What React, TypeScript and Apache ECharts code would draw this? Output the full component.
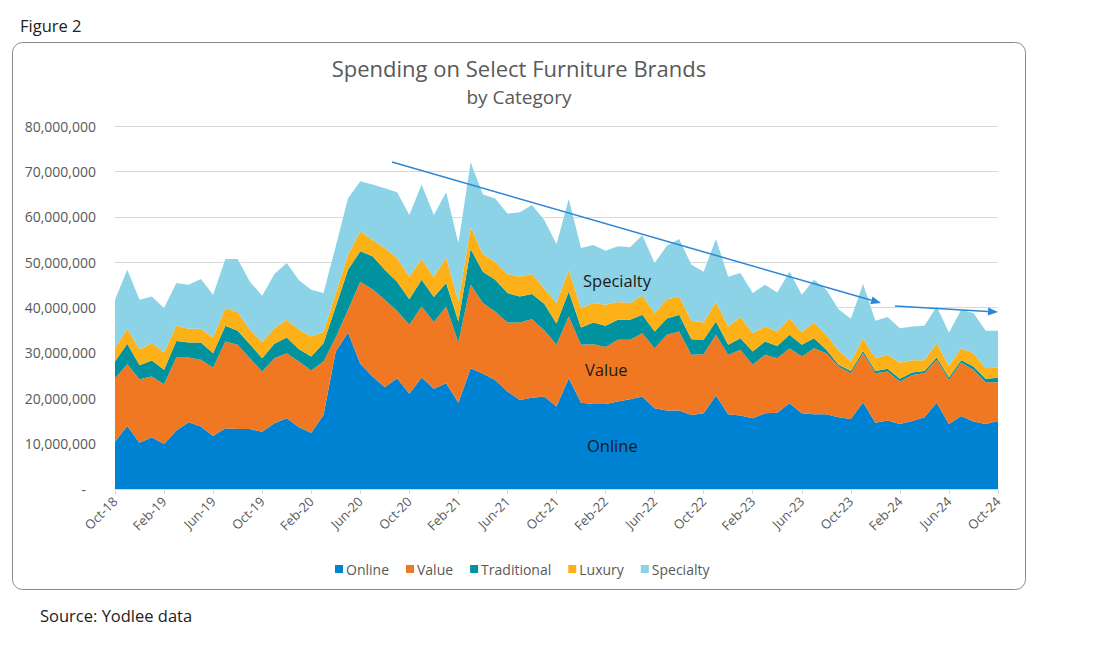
import React, { useEffect, useRef } from "react";
import * as echarts from "echarts";

const UNIT = 1e6;

const categories = [
  "Oct-18","Nov-18","Dec-18","Jan-19","Feb-19","Mar-19","Apr-19","May-19","Jun-19","Jul-19","Aug-19","Sep-19",
  "Oct-19","Nov-19","Dec-19","Jan-20","Feb-20","Mar-20","Apr-20","May-20","Jun-20","Jul-20","Aug-20","Sep-20",
  "Oct-20","Nov-20","Dec-20","Jan-21","Feb-21","Mar-21","Apr-21","May-21","Jun-21","Jul-21","Aug-21","Sep-21",
  "Oct-21","Nov-21","Dec-21","Jan-22","Feb-22","Mar-22","Apr-22","May-22","Jun-22","Jul-22","Aug-22","Sep-22",
  "Oct-22","Nov-22","Dec-22","Jan-23","Feb-23","Mar-23","Apr-23","May-23","Jun-23","Jul-23","Aug-23","Sep-23",
  "Oct-23","Nov-23","Dec-23","Jan-24","Feb-24","Mar-24","Apr-24","May-24","Jun-24","Jul-24","Aug-24","Sep-24",
  "Oct-24",
];

// values in millions
const online = [
  10.4, 13.9, 10.2, 11.4, 9.9, 12.9, 14.7, 13.75, 11.7, 13.4, 13.2, 13.2,
  12.6, 14.5, 15.6, 13.6, 12.4, 16.3, 30.3, 34.5, 27.6, 24.8, 22.4, 24.4,
  21.0, 24.6, 22.1, 23.3, 19.0, 26.6, 25.4, 24.0, 21.5, 19.6, 20.1, 20.4,
  18.2, 24.4, 19.0, 18.75, 18.75, 19.3, 19.8, 20.4, 17.8, 17.3, 17.3, 16.3,
  16.7, 20.6, 16.5, 16.2, 15.6, 16.7, 16.8, 18.9, 16.7, 16.5, 16.5, 15.8,
  15.4, 19.1, 14.6, 15.1, 14.3, 15.0, 15.8, 19.0, 14.3, 16.1, 14.9, 14.3,
  15.0,
];
const value = [
  14.0, 13.6, 14.0, 13.4, 13.2, 16.1, 14.3, 14.75, 15.1, 19.1, 18.6, 15.6,
  13.3, 14.3, 14.3, 14.5, 13.7, 11.8, 3.1, 5.0, 18.1, 19.2, 19.3, 14.9,
  15.2, 15.6, 14.7, 16.9, 13.3, 18.4, 15.6, 15.1, 15.2, 17.1, 17.3, 14.6,
  13.6, 13.6, 12.8, 13.15, 12.55, 13.6, 13.1, 13.9, 13.2, 16.7, 17.4, 13.3,
  13.0, 13.4, 13.1, 14.5, 11.8, 12.9, 12.0, 12.1, 12.5, 14.5, 13.4, 11.2,
  10.1, 10.8, 10.9, 10.8, 9.4, 10.1, 9.7, 9.5, 9.7, 11.8, 11.4, 9.2,
  8.5,
];
const traditional = [
  3.7, 4.5, 3.1, 3.5, 3.2, 3.6, 3.3, 3.8, 3.1, 3.5, 3.1, 3.1,
  2.9, 3.2, 3.5, 2.7, 3.1, 4.0, 6.8, 8.8, 6.7, 7.3, 6.6, 6.4,
  5.6, 5.9, 5.5, 5.2, 4.6, 7.9, 6.9, 7.0, 6.5, 5.7, 5.6, 5.8,
  4.7, 5.5, 3.8, 4.8, 4.7, 4.4, 4.4, 4.1, 3.7, 3.6, 3.7, 3.4,
  3.2, 2.9, 2.2, 2.5, 2.9, 2.9, 2.7, 3.0, 2.6, 2.2, 0.8, 0.4,
  0.5, 0.5, 0.5, 0.6, 0.6, 0.6, 0.5, 0.5, 0.6, 0.5, 0.7, 0.8,
  1.0,
];
const luxury = [
  2.9, 3.3, 3.5, 3.8, 3.8, 3.4, 3.0, 3.0, 3.5, 3.9, 4.1, 3.2,
  3.6, 3.4, 3.9, 4.3, 4.4, 2.5, 3.0, 3.3, 4.4, 3.6, 4.8, 5.2,
  5.0, 4.6, 4.4, 5.6, 4.4, 4.8, 3.9, 4.0, 4.2, 4.4, 4.4, 3.4,
  4.5, 4.7, 4.3, 4.3, 4.6, 3.9, 3.7, 4.2, 4.1, 4.2, 4.0, 4.1,
  3.8, 4.3, 4.0, 4.7, 4.0, 3.3, 3.2, 3.5, 2.8, 3.5, 3.3, 3.1,
  2.1, 2.8, 2.8, 3.1, 3.5, 2.7, 2.4, 3.1, 2.5, 2.6, 2.9, 2.3,
  2.3,
];
const specialty = [
  10.7, 13.0, 10.9, 10.3, 9.8, 9.4, 9.7, 11.0, 9.4, 10.8, 11.7, 10.6,
  10.2, 12.0, 12.5, 10.9, 10.3, 8.6, 10.3, 12.5, 11.0, 12.2, 13.2, 14.5,
  13.6, 16.4, 13.7, 14.4, 12.9, 14.3, 13.1, 13.9, 13.3, 14.2, 15.2, 15.1,
  13.0, 15.7, 13.2, 12.8, 11.9, 12.3, 12.3, 13.3, 11.0, 11.8, 12.7, 12.3,
  11.2, 13.9, 11.0, 9.7, 8.9, 9.2, 8.6, 10.4, 8.2, 9.4, 9.9, 9.1,
  9.4, 12.0, 8.3, 8.3, 7.6, 7.4, 7.6, 8.1, 7.4, 8.5, 8.9, 8.3,
  8.1,
];

const seriesNames = ["Online", "Value", "Traditional", "Luxury", "Specialty"];
const seriesData = [online, value, traditional, luxury, specialty];
const colors = ["#0082d2", "#f07823", "#00929e", "#fbb117", "#8cd3e7"];

const yTicks = { min: 0, max: 80000000, interval: 10000000 };

const FONT = "'Open Sans', 'Noto Sans', sans-serif";
const ARROW_COLOR = "#2a86d6";

function arrow(x1: number, y1: number, x2: number, y2: number) {
  const ang = Math.atan2(y2 - y1, x2 - x1);
  const len = 10;
  const hw = 4;
  const bx = x2 - len * Math.cos(ang);
  const by = y2 - len * Math.sin(ang);
  const px = -Math.sin(ang) * hw;
  const py = Math.cos(ang) * hw;
  return [
    {
      type: "line",
      shape: { x1, y1, x2: bx, y2: by },
      style: { stroke: ARROW_COLOR, lineWidth: 1.5 },
      z: 10,
    },
    {
      type: "polygon",
      shape: { points: [[x2, y2], [bx + px, by + py], [bx - px, by - py]] },
      style: { fill: ARROW_COLOR },
      z: 10,
    },
  ];
}

function fmtNum(v: number) {
  if (v === 0) return "{z|-}";
  return String(Math.round(v)).replace(/\B(?=(\d{3})+(?!\d))/g, ",");
}

export default function App() {
  const ref = useRef<HTMLDivElement>(null);
  useEffect(() => {
    if (!ref.current) return;
    const chart = echarts.init(ref.current, null, { renderer: "svg" });
    const option: any = {
      animation: false,
      backgroundColor: "#ffffff",
      textStyle: { fontFamily: FONT },
      grid: { left: 115, right: 119, top: 126, bottom: 164, containLabel: false },
      legend: {
        data: seriesNames,
        top: 557,
        left: 330,
        icon: "rect",
        itemWidth: 8,
        itemHeight: 8,
        itemGap: 17,
        textStyle: { fontFamily: FONT, fontSize: 14, color: "#595959", padding: [0, 0, 0, -2] },
      },
      xAxis: {
        type: "category",
        data: categories,
        boundaryGap: false,
        axisLine: { lineStyle: { color: "#d9d9d9" } },
        axisTick: { interval: 3, length: 5, lineStyle: { color: "#d9d9d9" } },
        axisLabel: {
          interval: 3,
          rotate: 45,
          margin: 10,
          fontFamily: FONT,
          fontSize: 13,
          color: "#595959",
        },
        splitLine: { show: false },
      },
      yAxis: {
        type: "value",
        min: yTicks.min,
        max: yTicks.max,
        interval: yTicks.interval,
        axisLine: { show: false },
        axisTick: { show: false },
        axisLabel: {
          margin: 19,
          fontFamily: FONT,
          fontSize: 14,
          color: "#595959",
          formatter: fmtNum,
          rich: { z: { fontFamily: FONT, fontSize: 14, color: "#595959", padding: [0, 10, 0, 0] } },
        },
        splitLine: { lineStyle: { color: "#d9d9d9", width: 1 } },
      },
      series: seriesNames.map((name, k) => ({
        name,
        type: "line",
        stack: "total",
        symbol: "none",
        lineStyle: { width: 0 },
        areaStyle: { color: colors[k], opacity: 1 },
        itemStyle: { color: colors[k] },
        emphasis: { disabled: true },
        data: seriesData[k].map((v) => Math.round(v * UNIT)),
      })),
      graphic: [
        {
          type: "rect",
          shape: { x: 12.5, y: 42.5, width: 1013, height: 547, r: 10 },
          style: { fill: "none", stroke: "#8a8a8a", lineWidth: 1 },
          z: -1,
          silent: true,
        },
        {
          type: "text",
          x: 519,
          y: 68,
          style: {
            text: "Spending on Select Furniture Brands",
            fontFamily: FONT,
            fontSize: 22,
            fill: "#595959",
            align: "center",
            verticalAlign: "middle",
          },
        },
        {
          type: "text",
          x: 519,
          y: 97,
          style: {
            text: "by Category",
            fontFamily: FONT,
            fontSize: 19,
            fill: "#595959",
            align: "center",
            verticalAlign: "middle",
          },
        },
        {
          type: "text",
          left: 20,
          top: 17,
          style: { text: "Figure 2", fontFamily: FONT, fontSize: 16.5, fill: "#222222" },
        },
        {
          type: "text",
          left: 40,
          top: 607,
          style: { text: "Source: Yodlee data", fontFamily: FONT, fontSize: 16.5, fill: "#222222" },
        },
        {
          type: "text",
          left: 583,
          top: 272,
          z: 10,
          style: { text: "Specialty", fontFamily: FONT, fontSize: 16.5, fill: "#1a1a1a" },
        },
        {
          type: "text",
          left: 585,
          top: 361,
          z: 10,
          style: { text: "Value", fontFamily: FONT, fontSize: 16.5, fill: "#1a1a1a" },
        },
        {
          type: "text",
          left: 587,
          top: 437,
          z: 10,
          style: { text: "Online", fontFamily: FONT, fontSize: 16.5, fill: "#1a1a1a" },
        },
        ...arrow(392, 162, 881, 303),
        ...arrow(895, 306, 998, 312),
      ],
    };
    chart.setOption(option);
    return () => chart.dispose();
  }, []);
  return (
    <div
      ref={ref}
      style={{ position: "fixed", left: 0, top: 0, width: 1117, height: 653, background: "#fff" }}
    />
  );
}
